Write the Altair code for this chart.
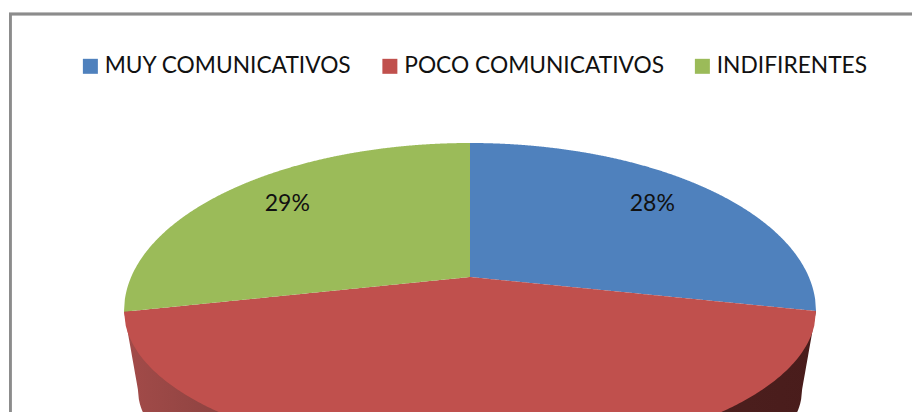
import numpy as np
import pandas as pd
import altair as alt

CATEGORIES = ["MUY COMUNICATIVOS", "POCO COMUNICATIVOS", "INDIFIRENTES"]
SHARES = [28, 43, 29]
COLORS = ["#4F81BD", "#C0504D", "#9BBB59"]

# Perspective model of the tilted pie, in picture units
CX, CY, RX, RY_BACK, RY_FRONT = 470.0, 311.0, 346.0, 168.0, 147.0
APEX_Y = 277.0
WARP = np.radians(29.3)
WALL_CY, WALL_RX, WALL_RY = 390.0, 332.0, 130.0
LABEL_FX, LABEL_FY = 0.745, 0.87


def warp(t):
    return t + WARP * np.sin(2 * t)


def rim(t):
    ry = np.where(np.cos(t) > 0, RY_BACK, RY_FRONT)
    return CX + RX * np.sin(t), CY - ry * np.cos(t)


frames = []
labels = []
start = 0.0
for cat, share in zip(CATEGORIES, SHARES):
    end = start + share / 100
    t0, t1 = warp(start * 2 * np.pi), warp(end * 2 * np.pi)
    t = np.linspace(t0, t1, 400)
    xr, yr = rim(t)
    order = np.argsort(xr)
    xs = np.linspace(xr.min(), xr.max(), 400)
    y_rim = np.interp(xs, xr[order], yr[order])
    chord = [(CX, APEX_Y)]
    for px, py in ((xr[0], yr[0]), (xr[-1], yr[-1])):
        if abs(px - CX) > 1e-6:
            chord.append((px, py))
    chord.sort()
    y_chord = np.interp(xs, [c[0] for c in chord], [c[1] for c in chord])
    frames.append(pd.DataFrame({"cat": cat, "x": xs, "y": y_rim, "y2": y_chord}))
    tm = (t0 + t1) / 2
    mx, my = rim(np.array(tm))
    labels.append({"x": CX + LABEL_FX * (float(mx) - CX),
                   "y": APEX_Y + LABEL_FY * (float(my) - APEX_Y),
                   "text": f"{share}%"})
    start = end

slices = pd.concat(frames)
labels = pd.DataFrame(labels)
visible_labels = labels[labels["y"] < 400]

wx = np.linspace(CX - RX, CX + RX, 700)
dx = np.abs(wx - CX)
inner = np.clip(dx / WALL_RX, 0, 1)
wy = WALL_CY + WALL_RY * np.sqrt(1 - inner ** 2)
side = dx > WALL_RX
wy[side] = CY + (RX - dx[side]) / (RX - WALL_RX) * (WALL_CY - CY)
wall = pd.DataFrame({"x": wx, "y": wy, "y2": CY})

X = alt.X("x:Q", scale=alt.Scale(domain=[8, 912]), axis=None)
Y = alt.Y("y:Q", scale=alt.Scale(domain=[412, 8]), axis=None)

wall_layer = alt.Chart(wall).mark_area(
    clip=True,
    color=alt.Gradient(
        gradient="linear", x1=0, x2=1, y1=0, y2=0,
        stops=[
            alt.GradientStop(offset=0, color="#A34B49"),
            alt.GradientStop(offset=0.14, color="#8E4341"),
            alt.GradientStop(offset=0.5, color="#6A302E"),
            alt.GradientStop(offset=0.85, color="#4C1F1E"),
            alt.GradientStop(offset=1, color="#491C1B"),
        ],
    ),
).encode(x=X, y=Y, y2="y2:Q")

slice_layer = alt.Chart(slices).mark_area(clip=True).encode(
    x=X, y=Y, y2="y2:Q",
    color=alt.Color(
        "cat:N",
        scale=alt.Scale(domain=CATEGORIES, range=COLORS),
        legend=alt.Legend(
            title=None, orient="none", legendX=71, legendY=46.5,
            direction="horizontal", columns=3, columnPadding=26.5,
            symbolType="square", symbolSize=225, symbolStrokeWidth=0,
            symbolOpacity=1, labelOffset=3, labelFont="Lato",
            labelFontSize=22.75, labelColor="#111111", labelLimit=0,
        ),
    ),
)

text_layer = alt.Chart(visible_labels).mark_text(
    font="Lato", fontSize=23, color="#111111", dy=1
).encode(x=X, y=Y, text="text:N")

frame_left = alt.Chart(labels).mark_rule(color="#8C8C8C", strokeWidth=2.5).encode(
    x=alt.value(2.3), y=alt.value(5), y2=alt.value(404)
)
frame_top = alt.Chart(labels).mark_rule(color="#8C8C8C", strokeWidth=2.5).encode(
    x=alt.value(1), x2=alt.value(904), y=alt.value(6)
)

chart = alt.layer(wall_layer, slice_layer, text_layer, frame_left, frame_top).properties(
    width=904, height=404, padding=0, autosize=alt.AutoSizeParams(type="none"),
    background="white",
).configure_view(stroke=None)

chart.save("out.html", embed_options={"renderer": "svg", "actions": False})
